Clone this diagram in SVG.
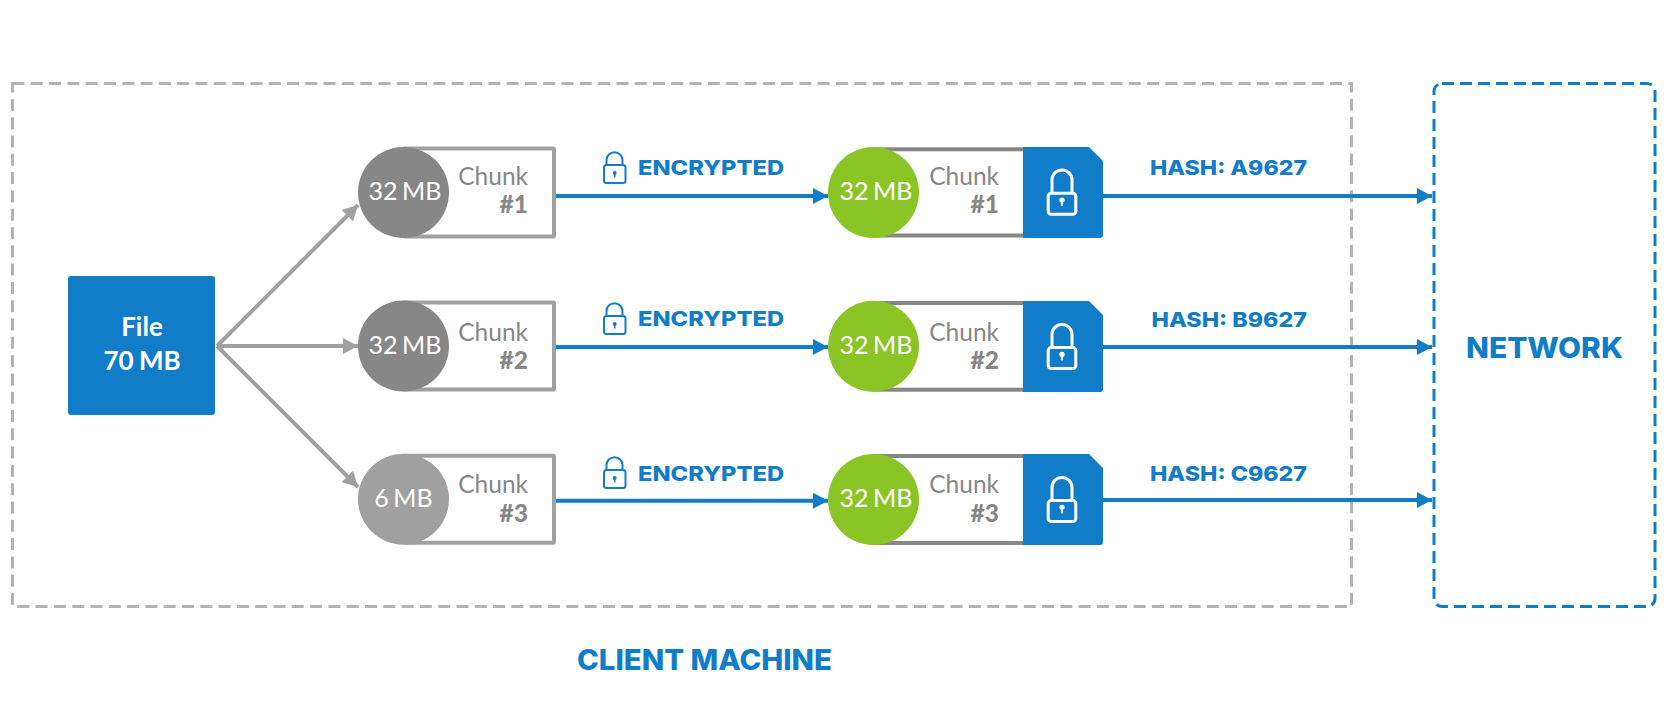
<svg xmlns="http://www.w3.org/2000/svg" xmlns:xlink="http://www.w3.org/1999/xlink" width="1672" height="720" viewBox="0 0 1672 720">
<style>
.lbl{font-family:Lato,sans-serif;font-size:25px;font-weight:400;word-spacing:-2px;fill:#fff;text-anchor:middle}
.chunk{font-family:Lato,sans-serif;font-size:24.500px;font-weight:400;fill:#878787;text-anchor:end}
.num{font-family:Lato,sans-serif;font-size:24.500px;font-weight:900;fill:#878787;text-anchor:end}
.file{font-family:Lato,sans-serif;font-size:26px;font-weight:700;word-spacing:-1px;fill:#fff;text-anchor:middle}
.head{font-family:Inter,"Open Sans",sans-serif;font-weight:800;fill:#117dc9}
.blue{stroke:#117dc9;stroke-width:4;fill:none}
.gray{stroke:#a0a0a0;stroke-width:4;fill:none}
</style>
<defs>
<marker id="ab" markerUnits="userSpaceOnUse" markerWidth="15" markerHeight="16" refX="15" refY="8" orient="auto"><path d="M0 0L15 8L0 16Z" fill="#117dc9"/></marker>
<marker id="ag" markerUnits="userSpaceOnUse" markerWidth="15" markerHeight="16" refX="15" refY="8" orient="auto"><path d="M0 0L15 8L0 16Z" fill="#a0a0a0"/></marker>
<g id="small-lock"><rect x="604" y="165" width="21.500" height="18" rx="2.500" fill="none" stroke="#117dc9" stroke-width="2"/><path d="M606.500 165V160A8 7.700 0 0 1 622.500 160V165" fill="none" stroke="#117dc9" stroke-width="2"/><circle cx="614.700" cy="173" r="2" fill="#117dc9"/><rect x="614" y="173" width="1.500" height="4.500" fill="#117dc9"/></g>
<g id="big-lock"><rect x="1048.200" y="193.200" width="27.600" height="21" rx="3" fill="none" stroke="#fff" stroke-width="3"/><path d="M1052 193V180A10 10 0 0 1 1072 180V193" fill="none" stroke="#fff" stroke-width="3"/><circle cx="1062" cy="200" r="2.600" fill="#fff"/><rect x="1061" y="200" width="2" height="6" fill="#fff"/></g>
</defs>
<rect width="1672" height="720" fill="#fff"/>
<g id="client-machine"><rect x="12.500" y="83.500" width="1339" height="523" fill="none" stroke="#b3b3b3" stroke-width="3" stroke-dasharray="12 6.300"/><text class="head" x="577" y="670" font-size="28" textLength="255" lengthAdjust="spacingAndGlyphs">CLIENT MACHINE</text></g>
<g id="network"><rect x="1434" y="83.500" width="221" height="523" rx="8" fill="none" stroke="#117dc9" stroke-width="3" stroke-dasharray="12 6"/><text class="head" x="1466" y="358" font-size="28.500" textLength="157" lengthAdjust="spacingAndGlyphs">NETWORK</text></g>
<g id="connectors">
<path class="gray" d="M217 346L358 205" marker-end="url(#ag)"/>
<path class="gray" d="M217 346H358" marker-end="url(#ag)"/>
<path class="gray" d="M217 346L358 487" marker-end="url(#ag)"/>
<path class="blue" d="M556 196H828" marker-end="url(#ab)"/>
<path class="blue" d="M556 347H828" marker-end="url(#ab)"/>
<path class="blue" d="M556 500.700H828" marker-end="url(#ab)"/>
<path class="blue" d="M1102 196H1432" marker-end="url(#ab)"/>
<path class="blue" d="M1102 347H1432" marker-end="url(#ab)"/>
<path class="blue" d="M1102 500H1432" marker-end="url(#ab)"/>
</g>
<g id="file"><rect x="68" y="276" width="147" height="139" rx="3" fill="#117dc9"/><text class="file" x="142" y="336">File</text><text class="file" x="142" y="370">70 MB</text></g>

<g id="chunk1"><rect x="404" y="148.500" width="150" height="88" rx="1" fill="#fff" stroke="#a0a0a0" stroke-width="4"/><circle cx="403.500" cy="192.500" r="45.500" fill="#878787"/><text class="lbl" x="405" y="199.500">32 MB</text><text class="chunk" x="528" y="185">Chunk</text><text class="num" x="528" y="213">#1</text></g>
<g id="chunk2"><rect x="404" y="302.500" width="150" height="87" rx="1" fill="#fff" stroke="#a0a0a0" stroke-width="4"/><circle cx="403.500" cy="346" r="45.500" fill="#878787"/><text class="lbl" x="405" y="354.300">32 MB</text><text class="chunk" x="528" y="340.700">Chunk</text><text class="num" x="528" y="368.700">#2</text></g>
<g id="chunk3"><rect x="404" y="455.700" width="150" height="87" rx="1" fill="#fff" stroke="#a0a0a0" stroke-width="4"/><circle cx="403.500" cy="499.200" r="45.500" fill="#a0a0a0"/><text class="lbl" x="403.500" y="507.300">6 MB</text><text class="chunk" x="528" y="493.300">Chunk</text><text class="num" x="528" y="521.700">#3</text></g>

<g id="encrypted1"><use xlink:href="#small-lock" href="#small-lock"/><text class="head" x="638" y="175" font-size="20.500" textLength="146" lengthAdjust="spacingAndGlyphs">ENCRYPTED</text></g>
<g id="encrypted2"><use xlink:href="#small-lock" href="#small-lock" y="151"/><text class="head" x="638" y="326" font-size="20.500" textLength="146" lengthAdjust="spacingAndGlyphs">ENCRYPTED</text></g>
<g id="encrypted3"><use xlink:href="#small-lock" href="#small-lock" y="305"/><text class="head" x="638" y="480.700" font-size="20.500" textLength="146" lengthAdjust="spacingAndGlyphs">ENCRYPTED</text></g>

<g id="enc-chunk1"><rect x="874" y="149.300" width="160" height="86.200" fill="#fff" stroke="#878787" stroke-width="4"/><circle cx="873.500" cy="192.500" r="45.500" fill="#8bc425"/><text class="lbl" x="876" y="199.500">32 MB</text><text class="chunk" x="999" y="185">Chunk</text><text class="num" x="999" y="213">#1</text><path d="M1023 147H1089L1103 161V235Q1103 238 1100 238H1023Z" fill="#117dc9"/><use xlink:href="#big-lock" href="#big-lock"/></g>
<g id="enc-chunk2"><rect x="874" y="303" width="160" height="86.700" fill="#fff" stroke="#878787" stroke-width="4"/><circle cx="873.500" cy="346.300" r="45.500" fill="#8bc425"/><text class="lbl" x="876" y="354.300">32 MB</text><text class="chunk" x="999" y="340.700">Chunk</text><text class="num" x="999" y="368.700">#2</text><path d="M1023 301H1089L1103 315V389Q1103 392 1100 392H1023Z" fill="#117dc9"/><use xlink:href="#big-lock" href="#big-lock" y="154.400"/></g>
<g id="enc-chunk3"><rect x="874" y="456" width="160" height="87" fill="#fff" stroke="#878787" stroke-width="4"/><circle cx="873.500" cy="499.500" r="45.500" fill="#8bc425"/><text class="lbl" x="876" y="507.300">32 MB</text><text class="chunk" x="999" y="493.300">Chunk</text><text class="num" x="999" y="521.700">#3</text><path d="M1023 454H1089L1103 468V542Q1103 545 1100 545H1023Z" fill="#117dc9"/><use xlink:href="#big-lock" href="#big-lock" y="307.400"/></g>

<text id="hash1" class="head" x="1150" y="175" font-size="20.500" textLength="157" lengthAdjust="spacingAndGlyphs">HASH: A9627</text>
<text id="hash2" class="head" x="1151.500" y="326.500" font-size="20.500" textLength="155.500" lengthAdjust="spacingAndGlyphs">HASH: B9627</text>
<text id="hash3" class="head" x="1150" y="480.700" font-size="20.500" textLength="157" lengthAdjust="spacingAndGlyphs">HASH: C9627</text>
</svg>
